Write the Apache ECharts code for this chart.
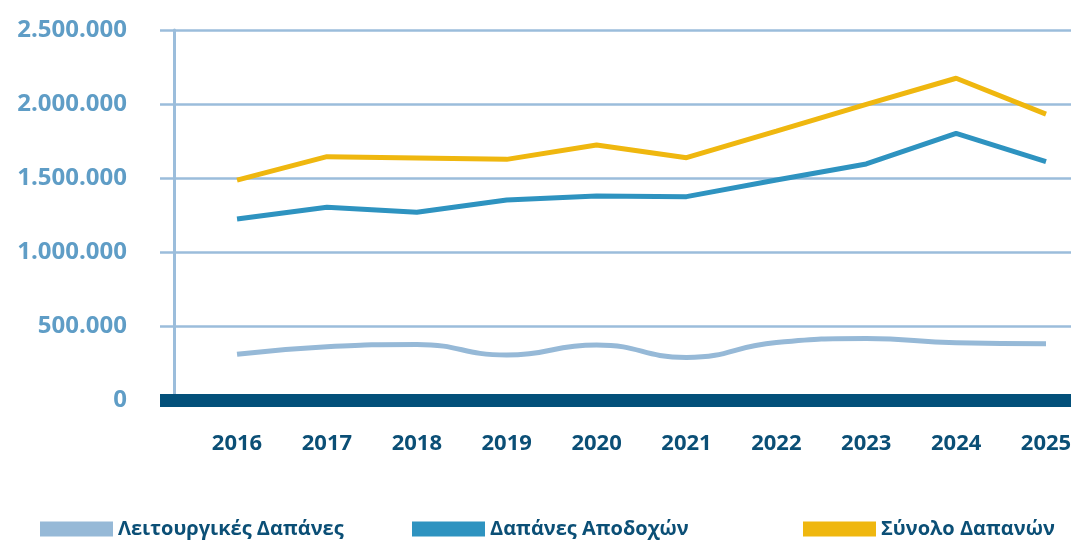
<!DOCTYPE html>
<html>
<head>
<meta charset="utf-8">
<script src="https://cdn.jsdelivr.net/npm/echarts@6/dist/echarts.min.js"></script>
<style>
  html, body { margin: 0; padding: 0; background: #fff; }
  #chart { width: 1076px; height: 541px; }
</style>
</head>
<body>
<div id="chart"></div>
<script>
// data
var years = ['2016', '2017', '2018', '2019', '2020', '2021', '2022', '2023', '2024', '2025'];
var leitourgikes = [309000, 360000, 375000, 304000, 372000, 288000, 388000, 415000, 387000, 380000];
var apodoxes = [1223000, 1302000, 1268000, 1351000, 1378000, 1374000, 1487000, 1595000, 1802000, 1610000];
var synolo = [1486000, 1644000, 1635000, 1626000, 1723000, 1637000, 1817000, 1998000, 2174000, 1932000];
var yTicks = [0, 500000, 1000000, 1500000, 2000000, 2500000];
var names = ['Λειτουργικές Δαπάνες', 'Δαπάνες Αποδοχών', 'Σύνολο Δαπανών'];

var FONT = '"Open Sans", "Noto Sans", sans-serif';

function pairs(arr) {
  return arr.map(function (v, i) { return [i, v]; });
}

function fmt(v) {
  return String(v).replace(/\B(?=(\d{3})+(?!\d))/g, '.');
}

var chart = echarts.init(document.getElementById('chart'), null, { renderer: 'canvas' });

//legend: three separate boxes so they sit where the original puts them
function legendAt(name, left) {
  return {
    data: [name],
    left: left,
    top: 519,
    padding: 0,
    icon: 'rect',
    itemWidth: 73,
    itemHeight: 15,
    selectedMode: false,
    textStyle: { fontFamily: FONT, fontSize: 20, fontWeight: 'bold', color: '#0b4f76' }
  };
}

var option = {
  backgroundColor: '#fff',
  animation: false,
  legend: [
    legendAt(names[0], 40),
    legendAt(names[1], 412),
    legendAt(names[2], 803)
  ],
  grid: { left: 160, right: 5, top: 30, bottom: 141, containLabel: false },
  xAxis: {
    type: 'value',
    min: -0.857,
    max: 9.278,
    splitLine: { show: false },
    axisTick: { show: false },
    axisLine: { show: true, onZero: false, lineStyle: { color: '#03507a', width: 13, cap: 'butt' } },
    axisLabel: {
      customValues: years.map(function (y, i) { return i; }),
      formatter: function (v) { return years[Math.round(v)]; },
      margin: 33,
      fontFamily: FONT,
      fontSize: 22,
      fontWeight: 'bold',
      color: '#0b4f76'
    }
  },
  yAxis: {
    type: 'value',
    min: 0,
    max: 2500000,
    interval: 500000,
    offset: -14,
    axisLine: { show: true, onZero: false, lineStyle: { color: '#9bbddb', width: 3 } },
    axisTick: { show: false },
    splitLine: { show: true, lineStyle: { color: '#9bbddb', width: 2.5 } },
    axisLabel: {
      margin: 47,
      fontFamily: FONT,
      fontSize: 24,
      fontWeight: 'bold',
      color: '#5f9dc6',
      formatter: function (v) { return yTicks.indexOf(v) >= 0 ? fmt(v) : ''; }
    }
  },
  series: [
    {
      name: names[0],
      type: 'line',
      data: pairs(leitourgikes),
      smooth: 0.5,
      showSymbol: false,
      symbol: 'none',
      color: '#96b9d7',
      lineStyle: { width: 5, color: '#96b9d7' }
    },
    {
      name: names[1],
      type: 'line',
      data: pairs(apodoxes),
      showSymbol: false,
      symbol: 'none',
      color: '#2e93c0',
      lineStyle: { width: 5, color: '#2e93c0' }
    },
    {
      name: names[2],
      type: 'line',
      data: pairs(synolo),
      showSymbol: false,
      symbol: 'none',
      color: '#efb70f',
      lineStyle: { width: 5, color: '#efb70f' }
    }
  ]
};

chart.setOption(option);
</script>
</body>
</html>
